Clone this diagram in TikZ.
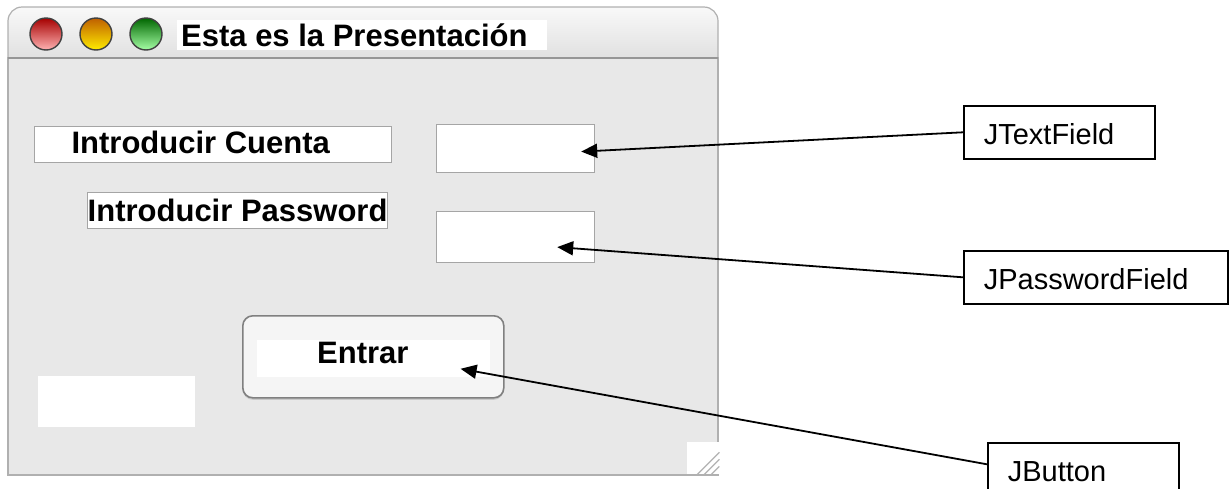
\documentclass[tikz,border=0pt]{standalone}
\usepackage{fontspec}
\setmainfont{Liberation Sans}
\usetikzlibrary{arrows.meta,shadows}
\definecolor{winbg}{RGB}{232,232,232}
\definecolor{winedge}{RGB}{176,176,176}
\definecolor{barline}{RGB}{150,150,150}
\definecolor{fieldedge}{RGB}{165,165,165}

\begin{document}
\begin{tikzpicture}[x=1pt,y=-1pt,
  ui/.style={font=\fontsize{31}{31}\selectfont\bfseries,inner sep=0pt,text height=22.5pt,text depth=0pt},
  lbl/.style={ui,anchor=north west,fill=white,draw=fieldedge,line width=1.2pt},
  field/.style={anchor=north west,fill=white,draw=fieldedge,line width=1.2pt,inner sep=0pt,minimum width=158pt},
  light/.style={circle,minimum size=32pt,inner sep=0pt,draw=black!75,line width=1.4pt},
  callout/.style={draw,line width=1.6pt,anchor=north west,minimum height=53pt,inner xsep=20pt,inner ysep=0pt,
    font=\fontsize{29}{29}\selectfont,text height=24pt,text depth=0pt},
  arr/.style={-{Triangle[length=16pt,width=14pt]},line width=1.8pt}
]
\useasboundingbox (0,0) rectangle (1229,488);
\shade[top color=gray!5,bottom color=gray!32,draw=winedge,line width=1.2pt,rounded corners=14pt] (8,7) rectangle (718,80);
\draw[fill=winbg,draw=winedge,line width=1.5pt] (8,58) rectangle (718,475);
\draw[barline,line width=2pt] (8,58) -- (718,58);
\node[light,top color=red!65!black,bottom color=red!30!white] (rojo) at (46,34) {};
\node[light,top color=orange!75!black,bottom color=yellow!85!orange] (naranja) at (96,34) {};
\node[light,top color=green!40!black,bottom color=green!35!white] (verde) at (146,34) {};
\node[ui,fill=white,anchor=north west,minimum height=30pt,inner xsep=4pt] (titulo) at (177,20) {\makebox[362pt][l]{Esta es la Presentación}};
\node[lbl,minimum width=357pt,minimum height=36pt,text depth=4pt] (cuenta) at (34,126) {\makebox[283pt][l]{Introducir Cuenta}};
\node[lbl,minimum width=300pt,minimum height=36pt] (passw) at (87,192) {Introducir Password};
\node[field,minimum height=48pt] (campo1) at (436,124) {};
\node[field,minimum height=51pt] (campo2) at (436,211) {};
\node[anchor=north west,fill=gray!8,draw=black!50,line width=1.6pt,rounded corners=10pt,minimum width=261pt,minimum height=82pt,
  drop shadow={opacity=0.3,shadow xshift=0pt,shadow yshift=-2pt}] (entrar) at (242,315) {};
\node[ui,fill=white,anchor=north west,minimum width=233pt,minimum height=37pt,text depth=13.5pt] (entrartxt) at (257,340) {\makebox[233pt][l]{\hspace*{60pt}Entrar}};
\node[fill=white,anchor=north west,minimum width=157pt,minimum height=51pt,inner sep=0pt] (vacio) at (38,376) {};
\node[fill=white,anchor=north west,minimum size=32pt,inner sep=0pt] (esquina) at (687,442) {};
\foreach \d in {8,15,22}
  \draw[gray!60,line width=1.2pt] ([xshift=-\d pt]esquina.south east) -- ([yshift=\d pt]esquina.south east);
\node[callout,minimum width=191pt] (jtf) at (963,105) {\makebox[151pt][l]{JTextField}};
\node[callout,minimum width=264pt] (jpf) at (963,250) {\makebox[224pt][l]{JPasswordField}};
\node[callout,minimum width=191pt] (jbtn) at (987,442) {\makebox[151pt][l]{JButton}};
\draw[arr] (jtf.west) -- ([xshift=-14pt,yshift=-3pt]campo1.east);
\draw[arr] (jpf.west) -- ([xshift=-38pt,yshift=-10pt]campo2.east);
\draw[arr] ([yshift=5pt]jbtn.west) -- ([xshift=-44pt,yshift=-12pt]entrar.east);
\end{tikzpicture}
\end{document}
